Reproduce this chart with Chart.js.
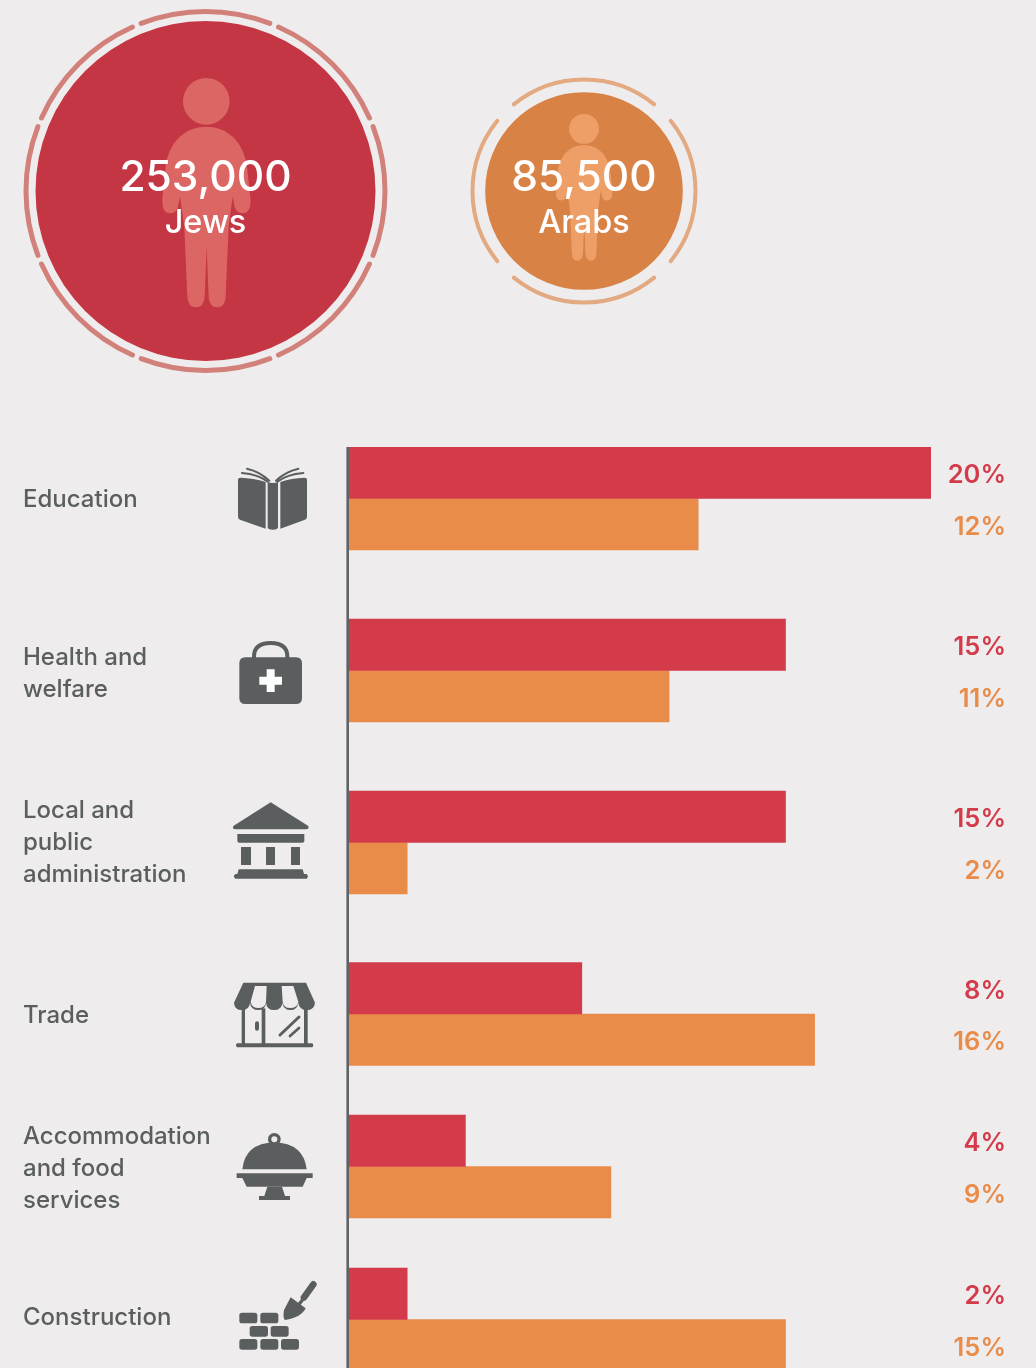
<!DOCTYPE html>
<html lang="en">
<head>
<meta charset="utf-8">
<title>Employment by sector</title>
<script src="https://cdn.jsdelivr.net/npm/chart.js@4/dist/chart.umd.js"></script>
<style>
  html,body{margin:0;padding:0;width:1036px;height:1368px;overflow:hidden;background:#eeeced;}
  canvas{position:absolute;left:0;top:0;display:block;}
</style>
</head>
<body>
<canvas id="bars" width="1036" height="1368"></canvas>
<canvas id="groups" width="1036" height="382"></canvas>
<script>
// ---------- data ----------
const groupNames = ['Jews', 'Arabs'];
const groupTotals = [253000, 85500];
const categories = [
  'Education',
  ['Health and', 'welfare'],
  ['Local and', 'public', 'administration'],
  'Trade',
  ['Accommodation', 'and food', 'services'],
  'Construction'
];
const jewsShare = [20, 15, 15, 8, 4, 2];
const arabsShare = [12, 11, 2, 16, 9, 15];

// ---------- layout & style ----------
const rowCentres = [498.5, 670.5, 842.5, 1014, 1166.5, 1319.5];
const labelCentres = [500, 673.5, 842.5, 1016, 1168.5, 1317.5];
const FONT = 'Inter, "Noto Sans", sans-serif';
const INK = '#5a5e5f', BG = '#eeeced';
const RED = '#d33a4a', ORANGE = '#e98c4a';
const bubbleColours = ['#c43643', '#d98245'];
const figureColours = ['#dc6663', '#ee9f68'];
const ringColours = ['#d2807a', '#e3a981'];
const rings = [
  {radius: 179.5, width: 5, count: 8, offset: Math.PI / 8, halfGap: 1.5 * Math.PI / 180},
  {radius: 111.5, width: 4, count: 4, offset: Math.PI / 4, halfGap: 6 * Math.PI / 180}
];
const figures = [{scale: 1, dx: 0.8, dy: -113.3}, {scale: 0.64, dx: 0, dy: -77.3}];
const bubbleScale = 170 / Math.sqrt(253000);

// ---------- scale with uneven row spacing ----------
class RowScale extends Chart.CategoryScale {
  getPixelForValue(value) {
    const i = typeof value === 'number' ? value : this.parse(value);
    return rowCentres[i];
  }
  getPixelForTick(index) {
    return labelCentres[this.ticks[index].value];
  }
  getPadding() {
    return {left: 0, top: 0, right: 0, bottom: 0};
  }
}
RowScale.id = 'rowScale';
RowScale.defaults = Chart.CategoryScale.defaults;
Chart.register(RowScale);

// ---------- icons (local units are 1/3 px) ----------
const icons = [
  {ox: 0, oy: 440, fill: [
    'M714 120Q714 113 722 113Q760 114 797 126L797 266L722 240Q714 238 714 230Z',
    'M921 120Q921 113 913 113Q875 114 841 126L841 266L913 240Q921 238 921 230Z',
    'M803 126Q818 132 834 126L834 262Q834 269 818 269Q803 269 803 262Z'
  ], stroke: [
    {w: 6, d: 'M741 86Q780 95 808 122'}, {w: 6, d: 'M726 99Q775 103 803 125'},
    {w: 6, d: 'M895 86Q856 95 828 122'}, {w: 6, d: 'M910 99Q861 103 832 125'}
  ]},
  {ox: 0, oy: 440, fill: [
    'M736 652H888Q906 652 906 670V774Q906 792 888 792H736Q718 792 718 774V670Q718 652 736 652Z'
  ], stroke: [{w: 12, d: 'M762 655V650Q762 609 812 609Q862 609 862 650V655'}],
    white: ['M800 688H824V710H846V734H824V756H800V734H778V710H800Z']},
  {ox: 0, oy: 780, fill: [
    'M812 67L925 138Q928 148 918 148H706Q696 148 700 138Z',
    'M712 162H913V182Q913 188 907 188H718Q712 188 712 182Z',
    'M723 201H753V255H723Z', 'M798 201H825V255H798Z', 'M873 201H900V255H873Z',
    'M716 268H908L912 282H920Q927 289 920 296H706Q697 289 706 282H712Z'
  ]},
  {ox: 0, oy: 780, fill: [
    'M730 608H918L945 668Q943 690 920 690Q898 690 895 668Q892 690 872 690Q850 690 847 668Q845 690 822 690Q800 690 798 668Q796 690 775 690Q752 690 750 668Q748 690 725 690Q703 690 702 668Z',
    'M725 685H735V795H725Z', 'M785 685H796V795H785Z', 'M912 685H923V795H912Z',
    'M711 790H937Q943 796 937 802H711Q705 796 711 790Z',
    'M765 730Q765 724 771 724Q777 724 777 730V746Q777 752 771 752Q765 752 765 746Z'
  ], bg: [
    'M765 618H800L798 665Q795 684 775 684Q755 684 752 665Z',
    'M845 618H880L895 665Q892 684 870 684Q851 684 848 665Z'
  ], stroke: [{w: 9, d: 'M840 765L897 711'}, {w: 8, d: 'M870 768L897 744'}]},
  {ox: 0, oy: 1100, fill: [
    'M804 118A19 19 0 1 0 842 118A19 19 0 1 0 804 118Z',
    'M727 208Q735 130 823 127Q911 130 920 208Z',
    'M710 220H938V234H710Z',
    'M727 234H920L908 260H740Z',
    'M802 260H846L855 288H870V300H777V288H793Z'
  ], bg: ['M814 118A9 9 0 1 0 832 118A9 9 0 1 0 814 118Z']},
  {ox: 0, oy: 1100, fill: [
    'M726 638H764Q772 638 772 646V662Q772 670 764 670H726Q718 670 718 662V646Q718 638 726 638Z',
    'M789 638H827Q835 638 835 646V662Q835 670 827 670H789Q781 670 781 662V646Q781 638 789 638Z',
    'M757 678H796Q804 678 804 686V702Q804 710 796 710H757Q749 710 749 702V686Q749 678 757 678Z',
    'M820 678H858Q866 678 866 686V702Q866 710 858 710H820Q812 710 812 702V686Q812 678 820 678Z',
    'M726 717H764Q772 717 772 725V741Q772 749 764 749H726Q718 749 718 741V725Q718 717 726 717Z',
    'M789 717H827Q835 717 835 725V741Q835 749 827 749H789Q781 749 781 741V725Q781 717 789 717Z',
    'M851 717H889Q897 717 897 725V741Q897 749 889 749H851Q843 749 843 741V725Q843 717 851 717Z',
    'M872 592L917 625Q905 652 855 660Q848 655 852 630Z'
  ], stroke: [{w: 10, d: 'M893 618L915 590'}, {w: 20, d: 'M912 592L940 553'}]}
];

const iconPlugin = {
  id: 'rowIcons',
  afterDraw(chart) {
    const ctx = chart.ctx;
    icons.forEach(ic => {
      ctx.save();
      ctx.translate(ic.ox, ic.oy);
      ctx.scale(1 / 3, 1 / 3);
      ctx.fillStyle = INK;
      ctx.strokeStyle = INK;
      ctx.lineCap = 'round';
      ic.fill.forEach(d => ctx.fill(new Path2D(d)));
      (ic.bg || []).forEach(d => { ctx.fillStyle = BG; ctx.fill(new Path2D(d)); });
      (ic.white || []).forEach(d => { ctx.fillStyle = '#ffffff'; ctx.fill(new Path2D(d)); });
      (ic.stroke || []).forEach(s => { ctx.lineWidth = s.w; ctx.stroke(new Path2D(s.d)); });
      ctx.restore();
    });
  }
};

const axisRulePlugin = {
  id: 'axisRule',
  beforeDatasetsDraw(chart) {
    const x = chart.scales.x.getPixelForValue(0);
    const ctx = chart.ctx;
    ctx.save();
    ctx.fillStyle = '#5f6365';
    ctx.fillRect(x - 2.6, chart.chartArea.top, 2.6, chart.chartArea.bottom - chart.chartArea.top);
    ctx.restore();
  }
};

const valueLabelPlugin = {
  id: 'valueLabels',
  afterDatasetsDraw(chart) {
    const ctx = chart.ctx;
    ctx.save();
    ctx.font = '600 25.5px ' + FONT;
    ctx.textAlign = 'right';
    ctx.textBaseline = 'middle';
    chart.data.datasets.forEach((ds, d) => {
      ctx.fillStyle = ds.backgroundColor;
      chart.getDatasetMeta(d).data.forEach((bar, i) => {
        ctx.fillText(ds.data[i] + '%', 1006, bar.y + 3);
      });
    });
    ctx.restore();
  }
};

new Chart(document.getElementById('bars'), {
  type: 'bar',
  data: {
    labels: categories,
    datasets: [
      {label: 'Jews', data: jewsShare, backgroundColor: RED, barThickness: 51.5},
      {label: 'Arabs', data: arabsShare, backgroundColor: ORANGE, barThickness: 51.5}
    ]
  },
  options: {
    indexAxis: 'y',
    responsive: false,
    animation: false,
    layout: {autoPadding: false, padding: {left: 23, top: 447, right: 105, bottom: 0}},
    plugins: {legend: {display: false}, tooltip: {enabled: false}},
    scales: {
      x: {type: 'linear', display: false, min: 0, max: 20},
      y: {
        type: 'rowScale',
        grid: {display: false, drawTicks: false},
        border: {display: false},
        afterFit(s) { s.width = 326; },
        ticks: {
          autoSkip: false,
          crossAlign: 'far',
          padding: 0,
          color: INK,
          font: {family: FONT, size: 24, weight: '500', lineHeight: '32px'}
        }
      }
    }
  },
  plugins: [axisRulePlugin, valueLabelPlugin, iconPlugin]
});

// ---------- group bubbles ----------
const figureBody = new Path2D('M619 380C680 380 725 420 740 490L752 600Q752 640 728 640Q705 640 702 610L698 590L686 680L677 890Q675 922 652 922Q628 922 626 890L620 740L614 890Q612 922 587 922Q565 922 562 890L553 680L540 590L536 610Q533 640 510 640Q487 640 487 600L498 490C513 420 558 380 619 380Z');

const ringPlugin = {
  id: 'rings',
  beforeDatasetsDraw(chart) {
    const ctx = chart.ctx;
    chart.getDatasetMeta(0).data.forEach((pt, i) => {
      const r = rings[i], step = 2 * Math.PI / r.count;
      ctx.save();
      ctx.strokeStyle = ringColours[i];
      ctx.lineWidth = r.width;
      ctx.lineCap = 'round';
      for (let k = 0; k < r.count; k++) {
        const a = r.offset + k * step;
        ctx.beginPath();
        ctx.arc(pt.x, pt.y, r.radius, a + r.halfGap, a + step - r.halfGap);
        ctx.stroke();
      }
      ctx.restore();
    });
  },
  afterDatasetsDraw(chart) {
    const ctx = chart.ctx;
    chart.getDatasetMeta(0).data.forEach((pt, i) => {
      const f = figures[i];
      ctx.save();
      ctx.translate(pt.x + f.dx, pt.y + f.dy);
      ctx.scale(f.scale / 3, f.scale / 3);
      ctx.translate(-619, -233);
      ctx.fillStyle = figureColours[i];
      ctx.fill(figureBody);
      ctx.beginPath();
      ctx.arc(619, 304, 70, 0, 2 * Math.PI);
      ctx.fill();
      ctx.restore();

      ctx.save();
      ctx.fillStyle = '#ffffff';
      ctx.textAlign = 'center';
      ctx.textBaseline = 'alphabetic';
      ctx.font = '500 42.5px ' + FONT;
      ctx.fillText(groupTotals[i].toLocaleString('en-US'), pt.x, pt.y);
      ctx.font = '500 32.5px ' + FONT;
      ctx.fillText(groupNames[i], pt.x, pt.y + 42);
      ctx.restore();
    });
  }
};

new Chart(document.getElementById('groups'), {
  type: 'bubble',
  data: {
    labels: groupNames,
    datasets: [{
      label: 'Workers',
      data: groupNames.map((n, i) => ({x: n, y: 0, r: bubbleScale * Math.sqrt(groupTotals[i])})),
      backgroundColor: bubbleColours,
      borderWidth: 0,
      clip: false
    }]
  },
  options: {
    responsive: false,
    animation: false,
    layout: {autoPadding: false, padding: {left: 205.5, right: 452, top: 0, bottom: 0}},
    plugins: {legend: {display: false}, tooltip: {enabled: false}},
    scales: {
      x: {type: 'category', display: false, offset: false},
      y: {type: 'linear', display: false, min: -1, max: 1}
    }
  },
  plugins: [ringPlugin]
});
</script>
</body>
</html>
